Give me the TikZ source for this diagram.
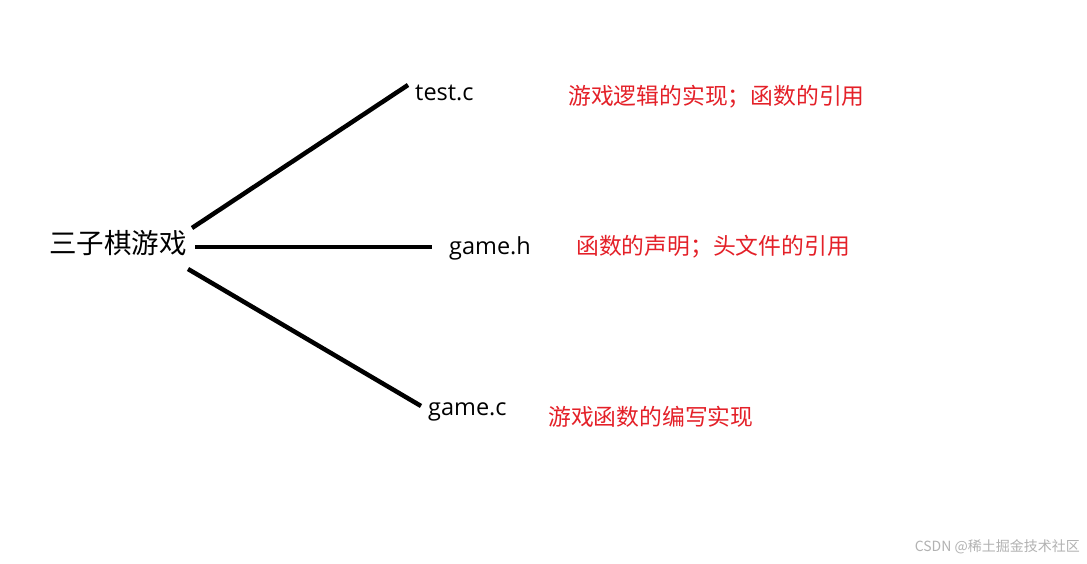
\documentclass[tikz,border=0pt]{standalone}
\usepackage{fontspec}
\newfontfamily\cjk{Noto Sans CJK SC}
\setmainfont{Open Sans}
\definecolor{lab}{RGB}{228,32,40}
\begin{document}
\begin{tikzpicture}[x=1pt,y=-1pt,
  conn/.style={line width=4.5pt},
  file/.style={inner sep=0pt,font=\fontsize{23.5}{26}\selectfont},
  note/.style={inner sep=0pt,text=lab,font=\cjk\fontsize{22.8}{26}\selectfont,anchor=west}]
\useasboundingbox[fill=white] (0,0) rectangle (1087,564);
\node[inner sep=0pt,font=\cjk\fontsize{27.5}{30}\selectfont] (root) at (118,243) {三子棋游戏};
\node[file,anchor=west] (t) at (415,93) {test.c};
\node[file,anchor=west] (h) at (449,248) {game.h};
\node[file,anchor=west] (g) at (428,412) {game.c};
\coordinate (r1) at (192,228); \coordinate (e1) at (408,85);
\coordinate (r2) at (195,247); \coordinate (e2) at (432,247);
\coordinate (r3) at (188,269); \coordinate (e3) at (421,406);
\draw[conn] (r1) -- (e1);
\draw[conn] (r2) -- (e2);
\draw[conn] (r3) -- (e3);
\node[note] (n1) at (568,97) {游戏逻辑的实现；函数的引用};
\node[note] (n2) at (576,247) {函数的声明；头文件的引用};
\node[note] (n3) at (548,417) {游戏函数的编写实现};
\node[inner sep=0pt,anchor=east,text=black!30,font=\cjk\fontsize{14}{16}\selectfont] (wm) at (1080,547) {CSDN @稀土掘金技术社区};
\end{tikzpicture}
\end{document}
